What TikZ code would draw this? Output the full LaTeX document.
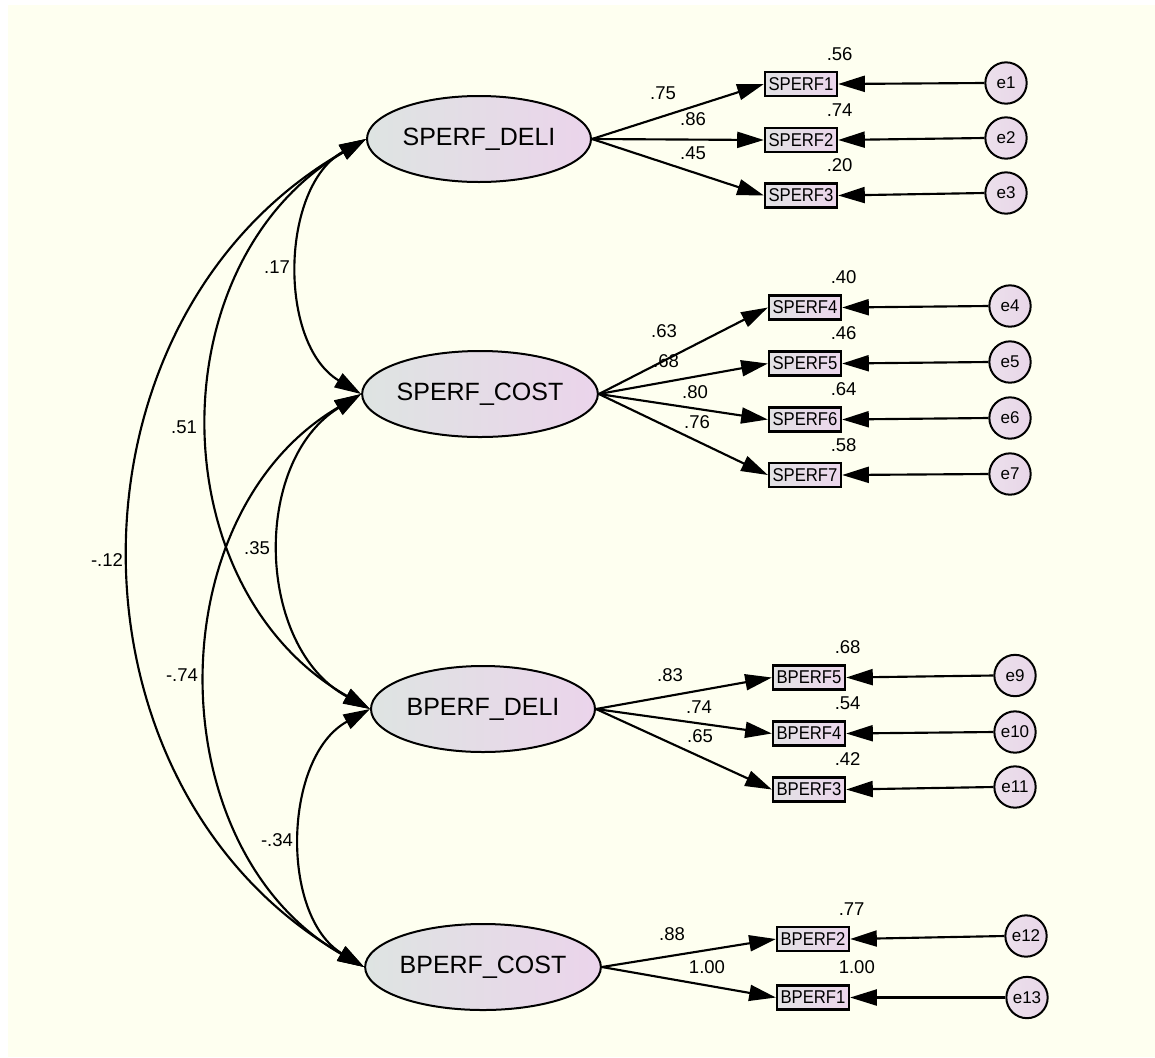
\documentclass[tikz,border=0pt]{standalone}
\usepackage{fontspec}
\setmainfont{Liberation Sans}
\usepackage{graphicx}
\usetikzlibrary{shapes.geometric,arrows.meta}
\definecolor{bgc}{RGB}{254,255,240}
\definecolor{lgray}{RGB}{222,228,226}
\definecolor{lpink}{RGB}{235,212,235}
\definecolor{bgray}{RGB}{226,226,228}
\definecolor{bpink}{RGB}{236,214,236}
\definecolor{cpink}{RGB}{232,214,232}
\definecolor{cpinkl}{RGB}{236,224,236}
\newcommand{\squeezed}[1]{\scalebox{0.9}[1]{#1}}
\begin{document}
\begin{tikzpicture}[x=0.75pt,y=-0.75pt,
  latent/.style={ellipse, draw=black, line width=1.5pt, minimum width=168pt, minimum height=64.5pt, inner sep=0pt,
    left color=lgray, right color=lpink, font=\fontsize{18.75pt}{20pt}\selectfont},
  obsbox/.style={rectangle, draw=black, line width=1.7pt, minimum width=54pt, minimum height=18pt, inner sep=0pt,
    left color=bgray, right color=bpink, font=\fontsize{13.9pt}{15pt}\selectfont},
  errc/.style={circle, draw=black, line width=1.5pt, minimum size=31pt, inner sep=0pt,
    left color=cpinkl, right color=cpink, font=\fontsize{12.75pt}{14pt}\selectfont},
  lbl/.style={inner sep=0pt, font=\fontsize{13.9pt}{15pt}\selectfont},
  smc/.style={inner sep=0pt, anchor=west, font=\fontsize{13.9pt}{15pt}\selectfont},
  loadarrow/.style={line width=1.6pt, -{Triangle[length=20pt,width=12pt]}},
  covarc/.style={line width=1.6pt, {Triangle[length=20pt,width=12pt]}-{Triangle[length=20pt,width=12pt]}, bend right=60}
]
\useasboundingbox (0,0) rectangle (1155,1057);
\fill[white] (0,0) rectangle (1155,1057);
\fill[bgc] (8,5) rectangle (1155,1057);

% latent variables
\node[latent] (sd) at (479,139) {SPERF\_DELI};
\node[latent] (sc) at (480,394) {SPERF\_COST};
\node[latent] (bd) at (483,709) {BPERF\_DELI};
\node[latent] (bc) at (483,967) {BPERF\_COST};

% observed
\node[obsbox] (s1) at (801,84) {\squeezed{SPERF1}};
\node[obsbox] (s2) at (801,140) {\squeezed{SPERF2}};
\node[obsbox] (s3) at (801,195.5) {\squeezed{SPERF3}};
\node[obsbox] (s4) at (805,307.5) {\squeezed{SPERF4}};
\node[obsbox] (s5) at (805,363.5) {\squeezed{SPERF5}};
\node[obsbox] (s6) at (805,419.5) {\squeezed{SPERF6}};
\node[obsbox] (s7) at (805,475) {\squeezed{SPERF7}};
\node[obsbox] (b5) at (809,677.5) {\squeezed{BPERF5}};
\node[obsbox] (b4) at (809,733.5) {\squeezed{BPERF4}};
\node[obsbox] (b3) at (809,789.5) {\squeezed{BPERF3}};
\node[obsbox] (b2) at (813,939) {\squeezed{BPERF2}};
\node[obsbox] (b1) at (813,997.5) {\squeezed{BPERF1}};

% errors
\node[errc] (e1) at (1006,83) {e1};
\node[errc] (e2) at (1006,138) {e2};
\node[errc] (e3) at (1006,193) {e3};
\node[errc] (e4) at (1010,306) {e4};
\node[errc] (e5) at (1010,362) {e5};
\node[errc] (e6) at (1010,418) {e6};
\node[errc] (e7) at (1010,474) {e7};
\node[errc] (e9) at (1015,675.5) {e9};
\node[errc] (e10) at (1015,732) {e10};
\node[errc] (e11) at (1015,787) {e11};
\node[errc] (e12) at (1026,936) {e12};
\node[errc] (e13) at (1027,997.5) {e13};

% loadings
\foreach \a/\b in {sd/s1,sd/s2,sd/s3,sc/s4,sc/s5,sc/s6,sc/s7,bd/b5,bd/b4,bd/b3,bc/b2,bc/b1}
  \draw[loadarrow] (\a.east) -- (\b.west);
% error arrows
\foreach \a/\b in {e1/s1,e2/s2,e3/s3,e4/s4,e5/s5,e6/s6,e7/s7,e9/b5,e10/b4,e11/b3,e12/b2,e13/b1}
  \draw[loadarrow] (\a.west) -- (\b.east);

% covariances
\draw[covarc, looseness=0.98] (sd.west) to (sc.west);
\draw[covarc, looseness=1.09] (sd.west) to (bd.west);
\draw[covarc, looseness=1.11] (sd.west) to (bc.west);
\draw[covarc, looseness=1.05] (sc.west) to (bd.west);
\draw[covarc, looseness=1.06] (sc.west) to (bc.west);
\draw[covarc, looseness=0.98] (bd.west) to (bc.west);

% covariance labels
\node[lbl] (c1) at (277,267) {.17};
\node[lbl] (c2) at (184,427) {.51};
\node[lbl] (c3) at (107,560) {-.12};
\node[lbl] (c4) at (257,548) {.35};
\node[lbl] (c5) at (182,675) {-.74};
\node[lbl] (c6) at (277,840) {-.34};

% loading labels
\node[lbl] (w1) at (663,93) {.75};
\node[lbl] (w2) at (693,119) {.86};
\node[lbl] (w3) at (693,153) {.45};
\node[lbl] (w4) at (664,331) {.63};
\node[lbl] (w5) at (666,361) {.68};
\node[lbl] (w6) at (695,392) {.80};
\node[lbl] (w7) at (697,422) {.76};
\node[lbl] (w8) at (670,675) {.83};
\node[lbl] (w9) at (699,707) {.74};
\node[lbl] (w10) at (700,736) {.65};
\node[lbl] (w11) at (672,934) {.88};
\node[lbl] (w12) at (707,967) {1.00};

% squared multiple correlations
\node[smc] (r1) at (826.5,54) {.56};
\node[smc] (r2) at (826.5,110) {.74};
\node[smc] (r3) at (826.5,165.5) {.20};
\node[smc] (r4) at (830.5,277.5) {.40};
\node[smc] (r5) at (830.5,333.5) {.46};
\node[smc] (r6) at (830.5,389.5) {.64};
\node[smc] (r7) at (830.5,445) {.58};
\node[smc] (r8) at (834.5,647.5) {.68};
\node[smc] (r9) at (834.5,703.5) {.54};
\node[smc] (r10) at (834.5,759.5) {.42};
\node[smc] (r11) at (838.5,909) {.77};
\node[smc] (r12) at (838.5,967.5) {1.00};
\end{tikzpicture}
\end{document}
